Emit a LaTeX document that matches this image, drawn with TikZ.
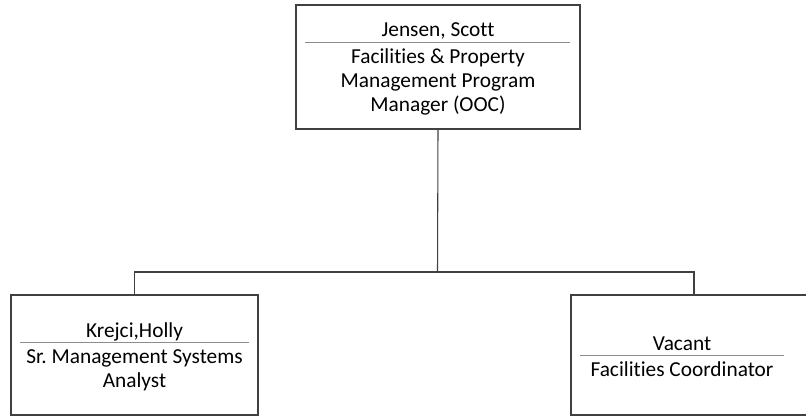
\documentclass[tikz,border=0pt]{standalone}
\usepackage{fontspec}
\setmainfont[Ligatures={NoCommon}]{Carlito}
\frenchspacing

\begin{document}
\begin{tikzpicture}[x=0.75pt, y=-0.75pt,
	box/.style={draw=black!75, line width=0.8pt, inner sep=0pt},
	rule/.style={draw=black!45, line width=1.1pt},
	link/.style={draw=black!75, line width=0.8pt},
	label/.style={font=\fontsize{16}{18}\selectfont, align=center, inner sep=0pt, anchor=base}]
	\useasboundingbox (0, 0) rectangle (806, 416);
	\node [box, minimum width=213pt, minimum height=93pt] (scott) at (438, 67) {};
	\node [box, minimum width=185.25pt, minimum height=90pt] (holly) at (134.5, 355) {};
	\node [box, minimum width=184.5pt, minimum height=90pt] (vacant) at (694, 355) {};
	\node [label] (scottname) at (438, 37) {Jensen, Scott};
	\draw [rule] (305, 42.3) -- (570, 42.3);
	\node [label] (scotttitle) at (438, 111.5) {Facilities \& Property\\Management Program\\Manager (OOC)};
	\node [label] (hollyname) at (134.5, 337.3) {Krejci,Holly};
	\draw [rule] (20, 342.7) -- (248.7, 342.7);
	\node [label] (hollytitle) at (134.5, 387.3) {Sr. Management Systems\\Analyst};
	\node [label] (vacantname) at (682, 350.3) {Vacant};
	\draw [rule] (580, 355.7) -- (784, 355.7);
	\node [label] (vacanttitle) at (682, 376.3) {Facilities Coordinator};
	\coordinate (junction) at (437.5, 272);
	\draw [link] (scott.south) -- (junction);
	\draw [link] (holly.north) |- (junction) -| (vacant.north);
\end{tikzpicture}
\end{document}
